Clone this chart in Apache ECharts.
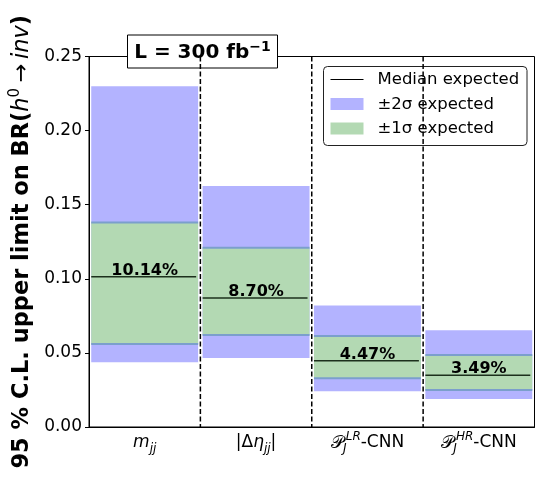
<!DOCTYPE html>
<html>
<head>
<meta charset="utf-8">
<script src="https://cdn.jsdelivr.net/npm/echarts@6/dist/echarts.min.js"></script>
<style>
  html, body { margin: 0; padding: 0; background: #fff; }
  #chart { width: 536px; height: 477px; }
</style>
</head>
<body>
<div id="chart"></div>
<script>
// Expected 95% CL upper limits on BR(h0 -> inv) for each analysis variable
var categories = ['mjj', 'detajj', 'PLR-CNN', 'PHR-CNN'];
var categoryLabels = [
  '{it|m}{sub|jj}',
  '{n||Δ}{it|η}{sub|jj}{n||}',
  '{cal|𝒫}{subz|J}{sup|LR}{n|-CNN}',
  '{cal|𝒫}{subz|J}{sup|HR}{n|-CNN}'
];
var median = [0.1014, 0.0870, 0.0447, 0.0349];
var oneSigmaLow = [0.0560, 0.0620, 0.0329, 0.0250];
var oneSigmaHigh = [0.1380, 0.1210, 0.0614, 0.0486];
var twoSigmaLow = [0.0437, 0.0466, 0.0241, 0.0189];
var twoSigmaHigh = [0.2300, 0.1626, 0.0819, 0.0652];
var legendItems = ['Median expected', '±2σ expected', '±1σ expected'];

var FONT = 'DejaVu Sans';
var BLUE = '#b3b3ff';
var GREEN = '#b3d9b3';
var EDGE = '#7b9fcc';

var bandData = categories.map(function (c, i) {
  return [i, twoSigmaLow[i], twoSigmaHigh[i], oneSigmaLow[i], oneSigmaHigh[i], median[i]];
});

function renderBand(params, api) {
  var idx = api.value(0);
  var w = api.size([1, 0])[0] * 0.96;
  var cx = api.coord([idx, 0])[0];
  var x0 = cx - w / 2;
  var y2lo = api.coord([idx, api.value(1)])[1];
  var y2hi = api.coord([idx, api.value(2)])[1];
  var y1lo = api.coord([idx, api.value(3)])[1];
  var y1hi = api.coord([idx, api.value(4)])[1];
  var ym = api.coord([idx, api.value(5)])[1];
  return {
    type: 'group',
    children: [
      { type: 'rect', shape: { x: x0, y: y2hi, width: w, height: y2lo - y2hi }, style: { fill: BLUE } },
      { type: 'rect', shape: { x: x0, y: y1hi, width: w, height: y1lo - y1hi }, style: { fill: GREEN } },
      { type: 'line', shape: { x1: x0, y1: y1hi, x2: x0 + w, y2: y1hi }, style: { stroke: EDGE, lineWidth: 2 } },
      { type: 'line', shape: { x1: x0, y1: y1lo, x2: x0 + w, y2: y1lo }, style: { stroke: EDGE, lineWidth: 2 } },
      { type: 'line', shape: { x1: x0, y1: ym, x2: x0 + w - 2, y2: ym }, style: { stroke: '#1c301c', lineWidth: 1.5 } },
      {
        type: 'text',
        style: {
          x: cx, y: ym + 2,
          text: (api.value(5) * 100).toFixed(2) + '%',
          fontFamily: FONT, fontWeight: 'bold', fontSize: 16,
          fill: '#000', align: 'center', verticalAlign: 'bottom'
        }
      }
    ]
  };
}

function renderDivider(params, api) {
  var idx = api.value(0);
  var half = api.size([1, 0])[0] / 2;
  var x = api.coord([idx, 0])[0] - half;
  var cs = params.coordSys;
  return {
    type: 'line',
    shape: { x1: x, y1: cs.y, x2: x, y2: cs.y + cs.height },
    style: { stroke: '#000', lineWidth: 1.5, lineDash: [5, 2.5] }
  };
}

var chart = echarts.init(document.getElementById('chart'), null, { renderer: 'canvas' });
chart.setOption({
  animation: false,
  backgroundColor: '#fff',
  grid: {
    left: 89, right: 1.5, top: 56.5, bottom: 50,
    outerBoundsMode: 'none',
    containLabel: false,
    show: true, borderColor: '#000', borderWidth: 1, backgroundColor: 'transparent'
  },
  xAxis: {
    type: 'category',
    data: categories,
    axisLine: { lineStyle: { color: '#000', width: 1 } },
    axisTick: { alignWithLabel: true, length: 4, lineStyle: { color: '#000' } },
    axisLabel: {
      interval: 0,
      margin: 4,
      color: '#000',
      fontFamily: FONT,
      fontSize: 17,
      formatter: function (v, i) { return categoryLabels[i]; },
      rich: {
        n: { fontFamily: FONT, fontSize: 17, lineHeight: 24 },
        it: { fontFamily: FONT, fontStyle: 'italic', fontSize: 17, lineHeight: 24 },
        sub: { fontFamily: FONT, fontStyle: 'italic', fontSize: 12, verticalAlign: 'bottom', lineHeight: 12 },
        subz: { fontFamily: FONT, fontStyle: 'italic', fontSize: 12, verticalAlign: 'bottom', lineHeight: 12, width: 2 },
        sup: { fontFamily: FONT, fontStyle: 'italic', fontSize: 12, verticalAlign: 'top', lineHeight: 12 },
        cal: { fontSize: 18, lineHeight: 24 }
      }
    },
    splitLine: { show: false }
  },
  yAxis: {
    type: 'value',
    min: 0, max: 0.25, interval: 0.05,
    axisLine: { show: true, lineStyle: { color: '#000', width: 1 } },
    axisTick: { show: true, length: 4, lineStyle: { color: '#000' } },
    splitLine: { show: false },
    axisLabel: {
      margin: 7, color: '#000', fontFamily: FONT, fontSize: 17,
      formatter: function (v) { return v.toFixed(2); }
    },
    name: '{b|95 % C.L. upper limit on BR(}{it|h}{sup|0}{ar|→}{it|inv}{b|)}',
    nameLocation: 'middle',
    nameRotate: 90,
    nameGap: 53,
    nameTextStyle: {
      fontFamily: FONT, fontWeight: 'bold', fontSize: 22.5, color: '#000',
      rich: {
        b: { fontFamily: FONT, fontWeight: 'bold', fontSize: 22.5, lineHeight: 28 },
        it: { fontFamily: FONT, fontStyle: 'italic', fontWeight: 'normal', fontSize: 22.5, lineHeight: 28 },
        sup: { fontFamily: FONT, fontWeight: 'normal', fontSize: 15, verticalAlign: 'top', lineHeight: 15 },
        ar: { fontFamily: FONT, fontWeight: 'normal', fontSize: 22.5, lineHeight: 28, padding: [0, 5, 0, 5] }
      }
    }
  },
  series: [
    {
      type: 'custom',
      renderItem: renderBand,
      data: bandData,
      encode: { x: 0, y: [1, 2, 3, 4, 5] },
      z: 2
    },
    {
      type: 'custom',
      renderItem: renderDivider,
      data: [[1], [2], [3]],
      encode: { x: 0 },
      z: 3
    }
  ],
  graphic: [
    {
      type: 'group', left: 127, top: 34.5, z: 10,
      children: [
        { type: 'rect', shape: { x: 0, y: 0, width: 150, height: 33 }, style: { fill: '#fff', stroke: '#000', lineWidth: 1 } },
        {
          type: 'text', x: 75, y: 18,
          style: {
            text: '{b|L = 300 fb}{sup|−1}',
            fontFamily: FONT, fontWeight: 'bold', fontSize: 20, fill: '#000',
            align: 'center', verticalAlign: 'middle',
            rich: {
              b: { fontFamily: FONT, fontWeight: 'bold', fontSize: 20, lineHeight: 26 },
              sup: { fontFamily: FONT, fontWeight: 'bold', fontSize: 14, verticalAlign: 'top', lineHeight: 14 }
            }
          }
        }
      ]
    },
    {
      type: 'group', left: 323, top: 66, z: 10,
      children: [
        { type: 'rect', shape: { x: 0, y: 0, width: 203.5, height: 79, r: 4 }, style: { fill: 'rgba(255,255,255,0.8)', stroke: '#222', lineWidth: 1 } },
        { type: 'line', shape: { x1: 7, y1: 13, x2: 40, y2: 13 }, style: { stroke: '#000', lineWidth: 1 } },
        { type: 'rect', shape: { x: 7, y: 31.5, width: 33, height: 12 }, style: { fill: BLUE } },
        { type: 'rect', shape: { x: 7, y: 56, width: 33, height: 12 }, style: { fill: GREEN } },
        { type: 'text', x: 54, y: 13, style: { text: legendItems[0], fontFamily: FONT, fontSize: 16.5, fill: '#000', verticalAlign: 'middle' } },
        { type: 'text', x: 54, y: 38, style: { text: legendItems[1], fontFamily: FONT, fontSize: 16.5, fill: '#000', verticalAlign: 'middle' } },
        { type: 'text', x: 54, y: 62, style: { text: legendItems[2], fontFamily: FONT, fontSize: 16.5, fill: '#000', verticalAlign: 'middle' } }
      ]
    }
  ]
});
</script>
</body>
</html>
